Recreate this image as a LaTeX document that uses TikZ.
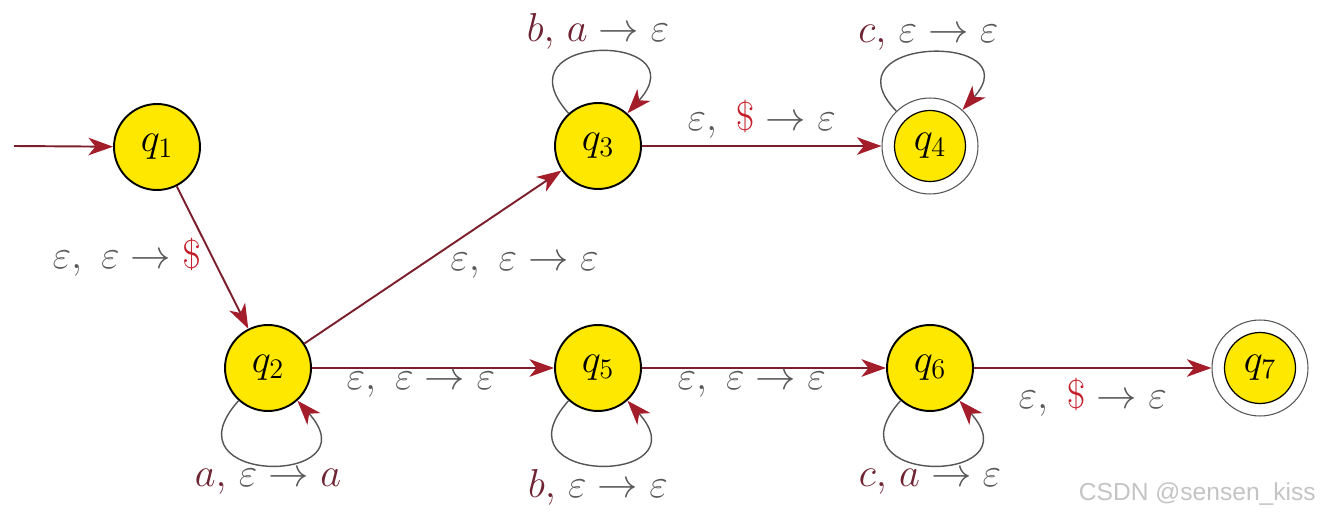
\RequirePackage{fix-cm}
\documentclass[tikz,border=0pt]{standalone}
\usepackage{fontspec}
\usetikzlibrary{arrows.meta}
\definecolor{qyellow}{RGB}{255,232,0}
\definecolor{maroon}{HTML}{7A1F2B}
\definecolor{tipred}{HTML}{A31D2A}
\definecolor{loopgrey}{HTML}{555555}
\definecolor{symmaroon}{HTML}{6E2433}
\definecolor{epsgrey}{HTML}{585858}
\definecolor{dollarred}{HTML}{C41E2A}
\definecolor{wmgrey}{HTML}{C4C4C4}
\newfontfamily\wmfont{Liberation Sans}
\newcommand{\qfont}{\fontsize{23}{27}\selectfont}
\newcommand{\Eps}{\varepsilon}
\newcommand{\Dol}{{\color{dollarred}\$}}
\newcommand{\Sym}[1]{{\color{symmaroon}#1}}
\newcommand{\Arr}{\rightarrow}

\begin{document}
\begin{tikzpicture}[x=0.02cm, y=0.02cm,
    qstate/.style={circle, draw=black, line width=1.1pt, fill=qyellow,
      minimum size=1.72cm, inner sep=0pt, font=\qfont},
    qaccept/.style={circle, draw=loopgrey, line width=0.6pt, fill=white,
      minimum size=1.92cm, inner sep=0pt, font=\qfont,
      path picture={\draw[fill=qyellow, draw=black, line width=0.7pt]
        (path picture bounding box.center) circle (0.71cm);}},
    trans/.style={draw=maroon, line width=1.1pt,
      -{Stealth[length=14pt, width=10pt, inset=4pt, color=tipred]}},
    selfloop/.style={draw=loopgrey, line width=0.8pt,
      -{Stealth[length=14pt, width=10pt, inset=4pt, color=tipred]}},
    lbl/.style={font=\qfont, text=epsgrey, inner sep=2pt}]
  \useasboundingbox (0,0) rectangle (1326,518);

  % states
  \node[qstate] (q1) at (157,371) {$q_1$};
  \node[qstate] (q2) at (268,150) {$q_2$};
  \node[qstate] (q3) at (598,372) {$q_3$};
  \node[qaccept] (q4) at (930,372) {$q_4$};
  \node[qstate] (q5) at (598,150) {$q_5$};
  \node[qstate] (q6) at (930,150) {$q_6$};
  \node[qaccept] (q7) at (1260,150) {$q_7$};
  \coordinate (start) at (14,372);

  % transitions
  \draw[trans] (start) -- (q1);
  \draw[trans] (q1) -- node[lbl, left=4pt] {$\Eps,\ \Eps \Arr \Dol$} (q2);
  \draw[trans] (q2) -- node[lbl, pos=0.55, anchor=north west]
    {$\Eps,\ \Eps \Arr \Eps$} (q3);
  \draw[trans] (q3) -- node[lbl, above=2pt] {$\Eps,\ \Dol \Arr \Eps$} (q4);
  \draw[trans] (q2) -- node[lbl, pos=0.45, below] {$\Eps,\ \Eps \Arr \Eps$} (q5);
  \draw[trans] (q5) -- node[lbl, pos=0.45, below] {$\Eps,\ \Eps \Arr \Eps$} (q6);
  \draw[trans] (q6) -- node[lbl, below=3pt] {$\Eps,\ \Dol \Arr \Eps$} (q7);

  % self loops
  \draw[selfloop] (q3) to[out=132, in=48, distance=2.2cm]
    node[lbl, above, inner sep=1pt] {$\Sym{b,}\ \Sym{a} \Arr \Eps$} (q3);
  \draw[selfloop] (q4) to[out=134, in=48, distance=2.1cm]
    node[lbl, above, inner sep=1pt] {$\Sym{c,}\ \Eps \Arr \Eps$} (q4);
  \draw[selfloop] (q2) to[out=228, in=312, distance=2.3cm]
    node[lbl, below] {$\Sym{a,}\ \Eps \Arr \Sym{a}$} (q2);
  \draw[selfloop] (q5) to[out=228, in=312, distance=2.3cm]
    node[lbl, below] {$\Sym{b,}\ \Eps \Arr \Eps$} (q5);
  \draw[selfloop] (q6) to[out=228, in=312, distance=2.3cm]
    node[lbl, below] {$\Sym{c,}\ \Sym{a} \Arr \Eps$} (q6);

  \node[font=\wmfont\fontsize{14}{16}\selectfont, text=wmgrey, anchor=east]
    (wm) at (1322,24) {CSDN @sensen\_kiss};
\end{tikzpicture}
\end{document}
